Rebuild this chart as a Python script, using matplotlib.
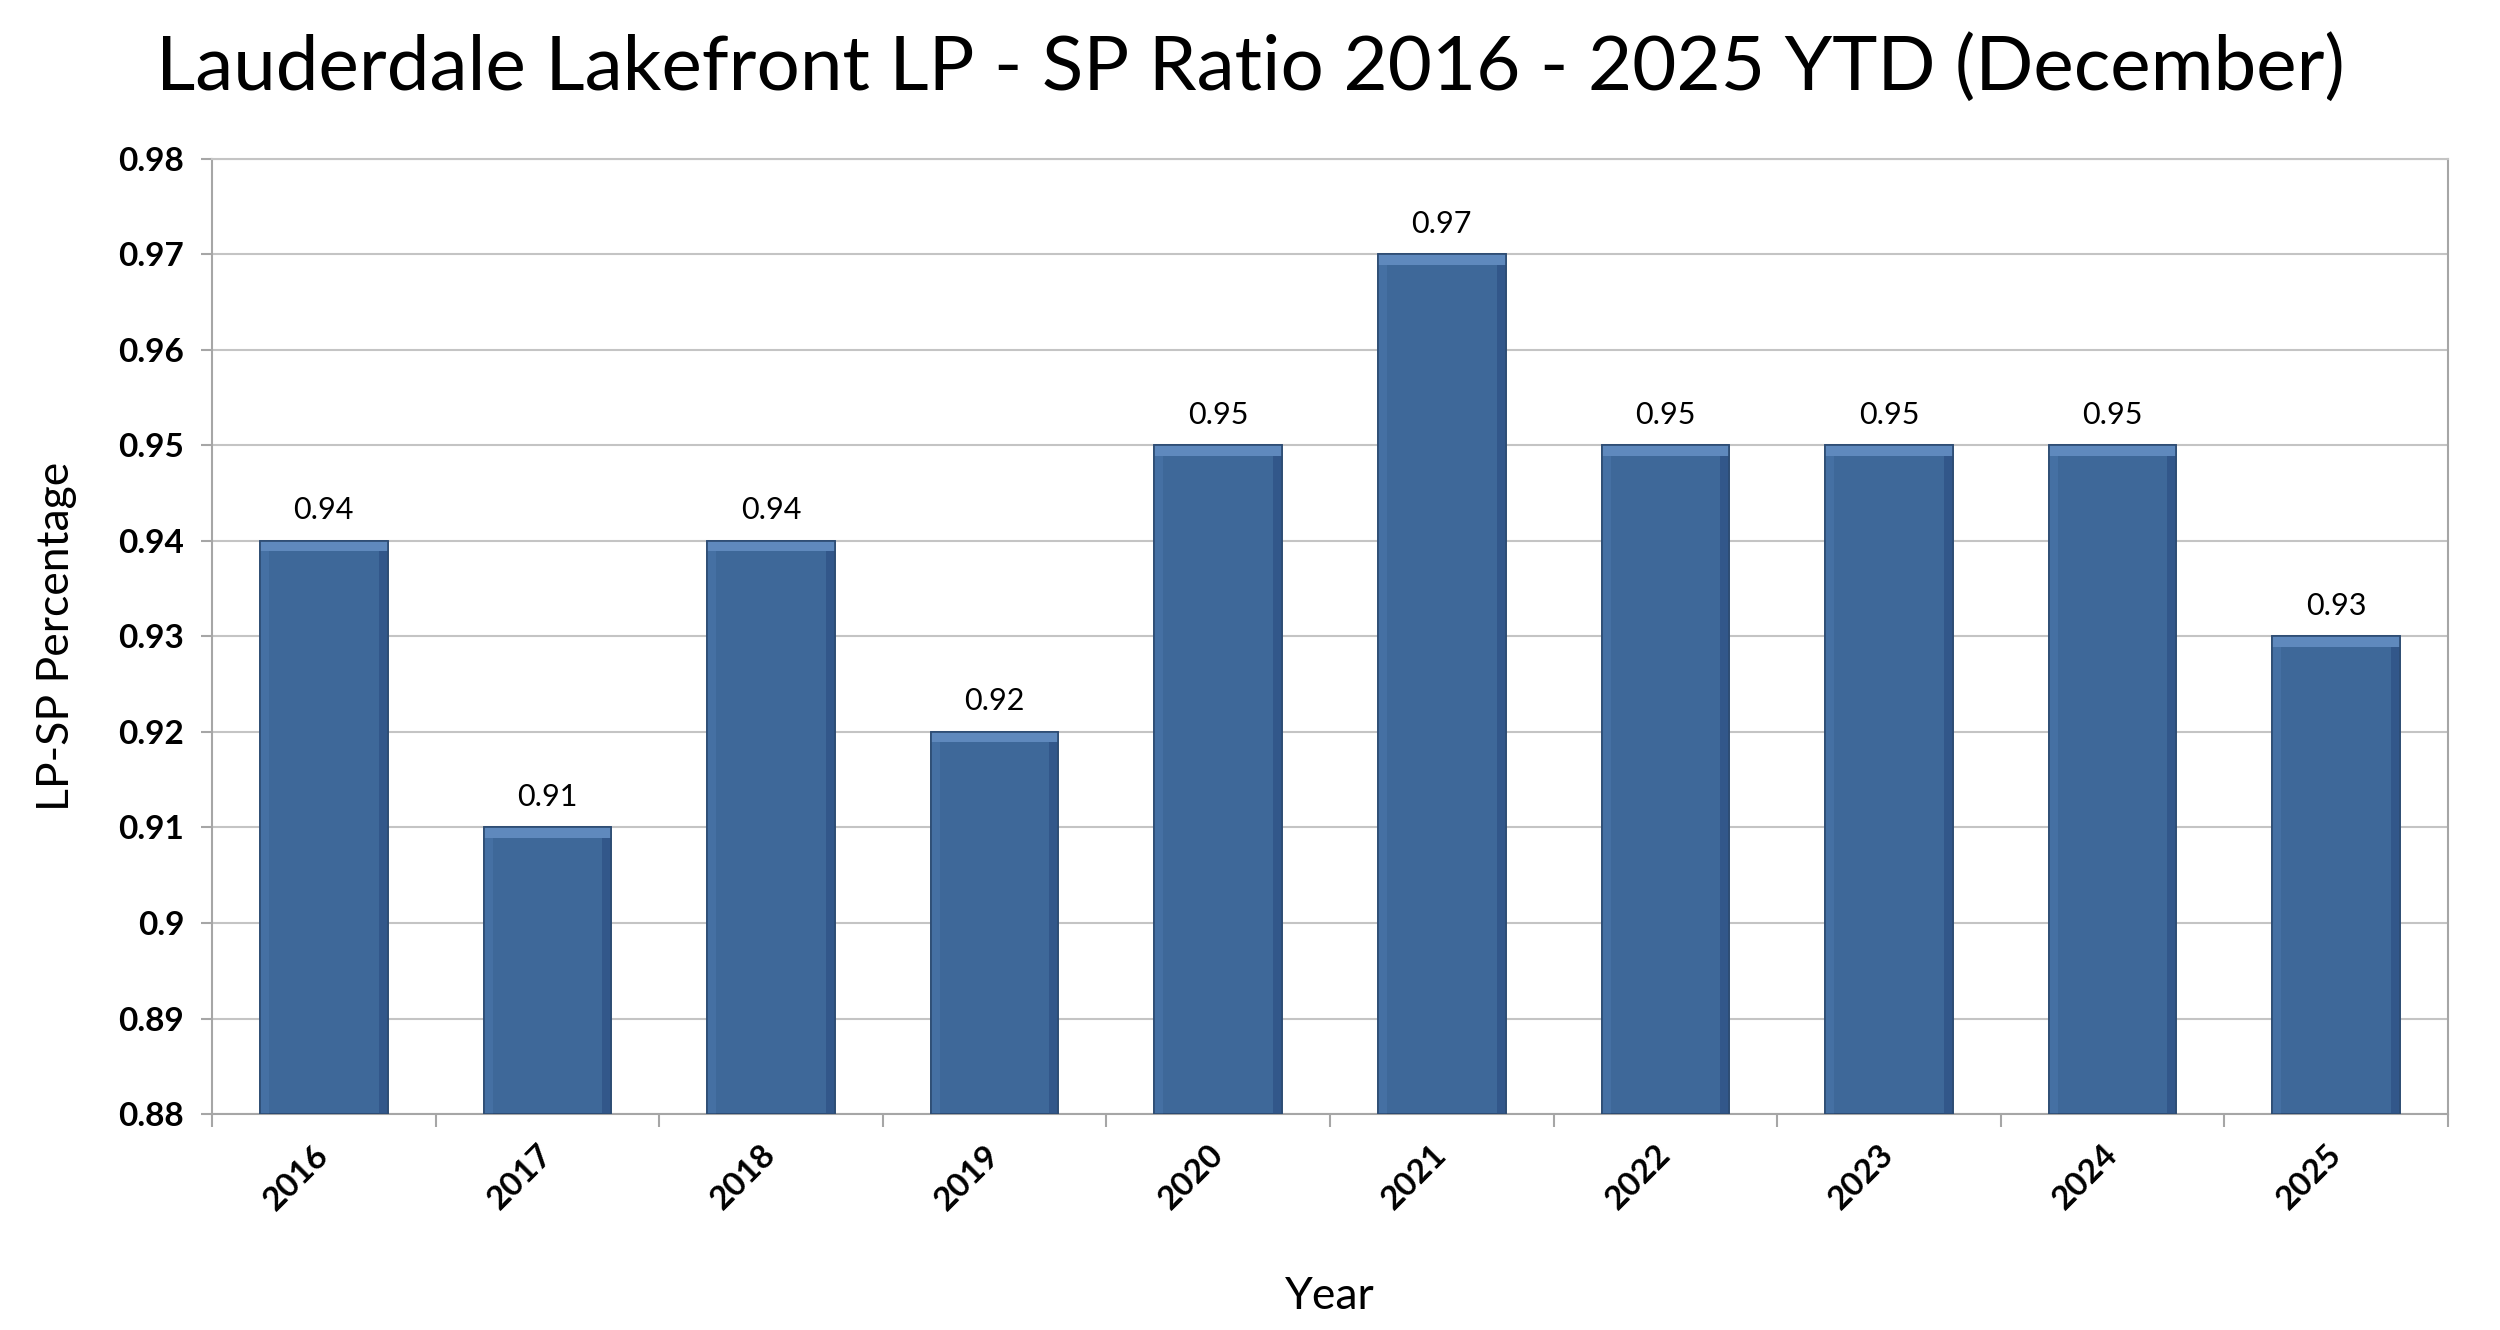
import matplotlib.pyplot as plt
import numpy as np

years = ["2016", "2017", "2018", "2019", "2020", "2021", "2022", "2023", "2024", "2025"]
ratios = [0.94, 0.91, 0.94, 0.92, 0.95, 0.97, 0.95, 0.95, 0.95, 0.93]
y_ticks = [0.88, 0.89, 0.90, 0.91, 0.92, 0.93, 0.94, 0.95, 0.96, 0.97, 0.98]
y_tick_labels = ["0.88", "0.89", "0.9", "0.91", "0.92", "0.93", "0.94", "0.95", "0.96", "0.97", "0.98"]

plt.rcParams['font.family'] = ['Lato', 'DejaVu Sans']

fig = plt.figure(figsize=(25, 13.3), dpi=100)
ax = fig.add_axes([0.0848, 0.1624, 0.8944, 0.7181])

x = np.arange(len(years))
base = 0.88
w = 0.57
heights = np.array(ratios) - base

# main bars
ax.bar(x, heights, bottom=base, width=w, color='#3E6899', edgecolor='#2C4B72', linewidth=1.2, zorder=3)
# bevel: darker right side, lighter left side, light top strip
side = 0.04
ax.bar(x + w / 2 - side / 2, heights, bottom=base, width=side, color='#32578A', linewidth=0, zorder=4)
ax.bar(x - w / 2 + side / 2, heights, bottom=base, width=side, color='#4570A3', linewidth=0, zorder=4)
top = 0.0011
ax.bar(x, top, bottom=np.array(ratios) - top, width=w, color='#5F89BD', linewidth=0, zorder=5)
ax.bar(x, heights, bottom=base, width=w, color='none', edgecolor='#2C4B72', linewidth=1.2, zorder=6)

for xi, v in zip(x, ratios):
    ax.annotate(f"{v:.2f}", (xi, v), xytext=(0, 12), textcoords='offset points',
                ha='center', va='bottom', fontsize=22, color='black')

ax.set_xlim(-0.5, len(years) - 0.5)
ax.set_ylim(0.88, 0.98)
ax.set_yticks(y_ticks)
ax.set_yticklabels(y_tick_labels, fontsize=24, fontweight='bold')
ax.yaxis.grid(True, color='#C4C4C4', linewidth=1.5, zorder=0)
ax.set_axisbelow(True)

# category ticks between bars, labels at centres
ax.set_xticks(np.arange(len(years) + 1) - 0.5)
ax.set_xticklabels([])
ax.set_xticks(x, minor=True)
ax.set_xticklabels(years, minor=True, rotation=45, ha='right', va='center',
                   rotation_mode='anchor', fontsize=24, fontweight='bold')
ax.tick_params(axis='x', which='minor', length=0, pad=26)
ax.tick_params(axis='x', which='major', length=9, width=1.5, color='#A6A6A6')
ax.tick_params(axis='y', length=8, width=1.5, color='#A6A6A6', pad=12)

for s in ax.spines.values():
    s.set_color('#A6A6A6')
    s.set_linewidth(1.5)
ax.spines['top'].set_color('#C4C4C4')

ax.set_ylabel("LP-SP Percentage", fontsize=32, labelpad=30)
ax.set_xlabel("Year", fontsize=32, labelpad=44)
fig.suptitle("Lauderdale Lakefront LP - SP Ratio 2016 - 2025 YTD (December)", fontsize=55, x=0.5, y=0.975)

fig.savefig("out.png", dpi=100)
